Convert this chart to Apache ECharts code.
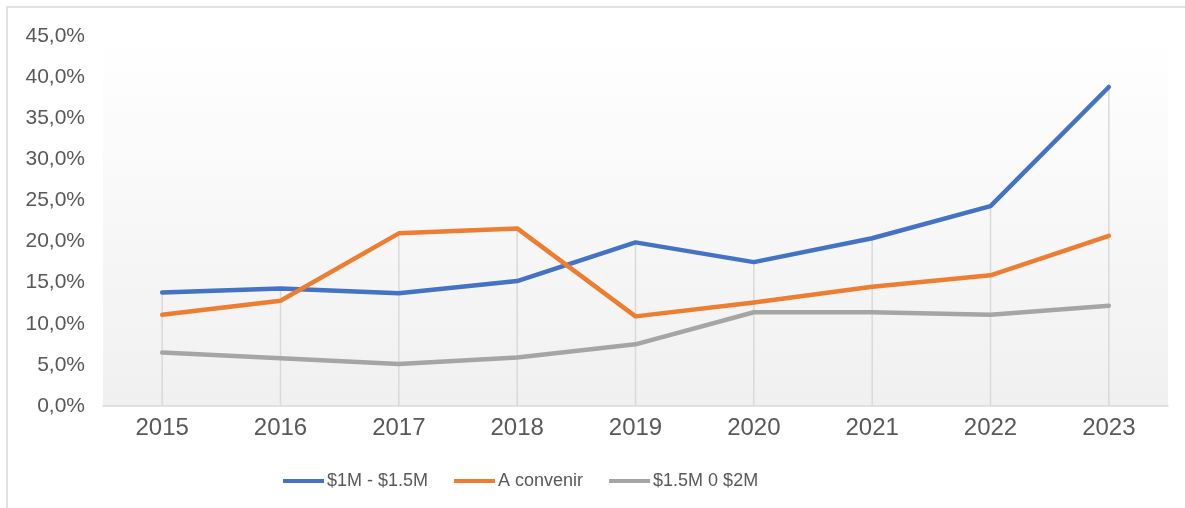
<!DOCTYPE html>
<html>
<head>
<meta charset="utf-8">
<script src="https://cdn.jsdelivr.net/npm/echarts@6/dist/echarts.min.js"></script>
<style>
  html, body { margin: 0; padding: 0; background: #fff; }
  #chart { width: 1185px; height: 508px; }
</style>
</head>
<body>
<div id="chart"></div>
<script>
const years = ['2015', '2016', '2017', '2018', '2019', '2020', '2021', '2022', '2023'];
const rango1 = [13.8, 14.3, 13.7, 15.2, 19.9, 17.5, 20.4, 24.3, 38.8];
const aConvenir = [11.1, 12.8, 21.0, 21.6, 10.9, 12.6, 14.5, 15.9, 20.7];
const rango2 = [6.5, 5.8, 5.1, 5.9, 7.5, 11.4, 11.4, 11.1, 12.2];
const seriesNames = ['$1M - $1.5M', 'A convenir', '$1.5M 0 $2M'];

// drop lines go from the highest point down to the axis
const dropTop = years.map((y, i) => Math.max(rango1[i], aConvenir[i], rango2[i]));

const chartDom = document.getElementById('chart');
const myChart = echarts.init(chartDom);
const textColor = '#595959';
const font = '"Liberation Sans", Arial, sans-serif';

const option = {
  animation: false,
  textStyle: { fontFamily: font },
  graphic: [
    {
      type: 'rect',
      shape: { x: 7, y: 7, width: 1300, height: 700 },
      style: { fill: 'none', stroke: '#d9d9d9', lineWidth: 1.5 },
      z: -10
    }
  ],
  grid: {
    left: 103,
    right: 17,
    top: 36,
    bottom: 102,
    show: true,
    borderWidth: 0,
    backgroundColor: new echarts.graphic.LinearGradient(0, 0, 0, 1, [
      { offset: 0, color: '#ffffff' },
      { offset: 1, color: '#f0f0f0' }
    ])
  },
  legend: {
    data: seriesNames,
    left: 278,
    top: 467,
    icon: 'rect',
    itemWidth: 41,
    itemHeight: 4,
    itemGap: 26,
    textStyle: { color: textColor, fontSize: 18, fontFamily: font, padding: [0, 0, 0, -2] }
  },
  xAxis: {
    type: 'category',
    data: years,
    axisLine: { lineStyle: { color: '#d9d9d9', width: 1.5 } },
    axisTick: { show: false },
    axisLabel: { color: textColor, fontSize: 24, margin: 10 },
    splitLine: { show: false }
  },
  yAxis: {
    type: 'value',
    min: 0,
    max: 45,
    interval: 5,
    axisLine: { show: false },
    axisTick: { show: false },
    splitLine: { show: false },
    axisLabel: {
      color: textColor,
      fontSize: 21,
      margin: 18,
      formatter: v => v.toFixed(1).replace('.', ',') + '%'
    }
  },
  series: [
    {
      name: 'drop',
      type: 'bar',
      data: dropTop,
      barWidth: 1.5,
      silent: true,
      itemStyle: { color: '#d9d9d9' },
      z: 1
    },
    {
      name: seriesNames[0],
      type: 'line',
      data: rango1,
      symbol: 'none',
      itemStyle: { color: '#4472C4' },
      lineStyle: { color: '#4472C4', width: 4.5, cap: 'round', join: 'round' },
      z: 3
    },
    {
      name: seriesNames[1],
      type: 'line',
      data: aConvenir,
      symbol: 'none',
      itemStyle: { color: '#ED7D31' },
      lineStyle: { color: '#ED7D31', width: 4.5, cap: 'round', join: 'round' },
      z: 3
    },
    {
      name: seriesNames[2],
      type: 'line',
      data: rango2,
      symbol: 'none',
      itemStyle: { color: '#A5A5A5' },
      lineStyle: { color: '#A5A5A5', width: 4.5, cap: 'round', join: 'round' },
      z: 3
    }
  ]
};

option && myChart.setOption(option);
</script>
</body>
</html>
